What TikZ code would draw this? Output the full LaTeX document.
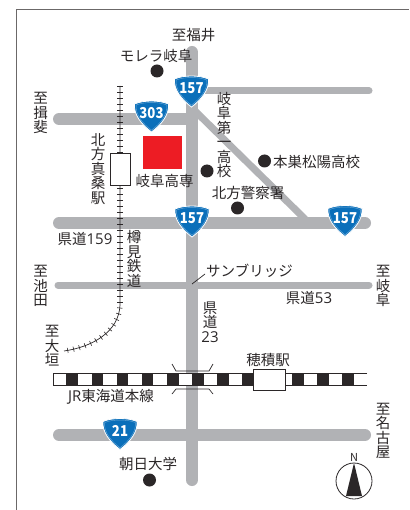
\documentclass[tikz,border=0pt]{standalone}
\usepackage{fontspec}
\setmainfont{Noto Sans CJK JP}
\newfontfamily\latinf{Open Sans}
\usetikzlibrary{decorations.markings}
\definecolor{roadgray}{HTML}{B1B2B5}
\definecolor{ink}{HTML}{2B2728}
\definecolor{shieldblue}{HTML}{0A6FBA}
\definecolor{redsq}{HTML}{ED1C24}
\tikzset{
  road/.style={draw=roadgray,line cap=round,line width=12pt},
  thinroad/.style={draw=roadgray,line cap=round,line width=7pt},
  label/.style={text=ink,inner sep=0pt,align=center,font=\fontsize{14.5}{14.4}\selectfont},
  landmark/.style={circle,fill=ink,minimum size=13pt,inner sep=0pt},
  stationbox/.style={draw=ink,fill=white,line width=0.8pt},
  tracktick/.style={postaction={decorate,decoration={markings,
    mark=between positions 0 and 1 step 6pt with {\draw[ink,line width=0.6pt] (0,-2.6pt) -- (0,2.6pt);}}}},
  leader/.style={draw=ink,line width=0.7pt},
}
\newcommand{\nm}[1]{{\latinf\fontsize{15}{14.4}\selectfont #1}}
\newcommand{\shield}[4]{%
  \begin{scope}[shift={(#2,#3)}]
    \draw[fill=shieldblue,draw=white,line width=0.8pt]
      (-17,-12.5) .. controls (-8,-16.5) and (8,-16.5) .. (17,-12.5)
      .. controls (18,-2) and (10,8) .. (0,15.5)
      .. controls (-10,8) and (-18,-2) .. (-17,-12.5) -- cycle;
    \draw[draw=shieldblue!60,line width=0.4pt]
      (-15.4,-11.4) .. controls (-8,-14.8) and (8,-14.8) .. (15.4,-11.4)
      .. controls (16.2,-2) and (9,7) .. (0,13.7)
      .. controls (-9,7) and (-16.2,-2) .. (-15.4,-11.4) -- cycle;
    \node[text=white,inner sep=0pt,font=\fontsize{15}{15}\selectfont\bfseries,xscale=0.88] (#1) at (0,-3) {#4};
  \end{scope}}
\begin{document}
\begin{tikzpicture}[x=1pt,y=-1pt]
\useasboundingbox (0,0) rectangle (409,510);
\fill[white] (0,0) rectangle (409,510);
% frame
\draw[draw=ink!70,line width=1pt] (16,510) -- (16,10) -- (409,10);
% roads
\draw[thinroad] (192,91) -- (369,91);
\draw[thinroad] (192,108) -- (305,219);
\draw[thinroad] (58,285) -- (369,285);
\draw[road] (59,119) -- (192,119);
\draw[road] (59,223) -- (365,223);
\draw[road] (59,435) -- (365,435);
\draw[road] (192,52) -- (192,480);
% rail track
\coordinate (trackN) at (120,86);
\coordinate (trackBend) at (120,305);
\coordinate (trackW) at (64,351);
\draw[ink,line width=0.7pt,tracktick] (trackN) -- (trackBend) .. controls (119,332) and (92,347) .. (trackW);
\node[stationbox,minimum width=20pt,minimum height=32pt,inner sep=0pt] (kitagata) at (120.5,169) {};
% JR line
\fill[white] (53,373) rectangle (367,385);
\draw[draw=ink,line width=0.9pt] (367,373) -- (53,373) -- (53,385) -- (367,385);
\foreach \a/\b in {66/78,92/103,117/128,142/153,167/179,192/204,217/229,242/253,292/304,317/329,342/354}
  \fill[ink] (\a,373) rectangle (\b,385);
\node[stationbox,minimum width=32pt,minimum height=21pt,inner sep=0pt] (hozumi) at (269.5,379.5) {};
% bridge marks
\draw[leader] (172,364) -- (176,371) -- (209,371) -- (213,364);
\draw[leader] (172,394) -- (176,389) -- (209,389) -- (213,394);
% red square
\node[fill=redsq,minimum width=39pt,minimum height=33pt,inner sep=0pt] (school) at (162.5,152.5) {};
% landmarks
\node[landmark] (moreradot) at (157,71) {};
\node[landmark] (daiichidot) at (207,171) {};
\node[landmark] (motosudot) at (264.5,161) {};
\node[landmark] (policedot) at (237.5,208) {};
\node[landmark] (asahidot) at (149.5,480) {};
% shields
\shield{s157a}{191.5}{91.5}{157}
\shield{s303}{151.5}{116.5}{303}
\shield{s157b}{192}{221.5}{157}
\shield{s157c}{345}{221}{157}
\shield{s21}{120}{434}{21}
% labels
\node[label] (fukui) at (193.5,35.5) {至福井};
\node[label] (morera) at (156,56) {モレラ岐阜};
\node[label] (ibi) at (40.5,113) {至\\揖\\斐};
\node[label] (kitagatast) at (98,169) {北\\方\\真\\桑\\駅};
\node[label] (kosen) at (164.5,181) {岐阜高専};
\node[label] (r159) at (85,239) {県道\nm{159}};
\node[label] (tarumi) at (134,259) {樽\\見\\鉄\\道};
\node[label] (daiichi) at (224,135) {岐\\阜\\第\\一\\高\\校};
\node[label] (motosu) at (316.5,162) {本巣松陽高校};
\node[label] (police) at (248,193) {北方警察署};
\node[label] (ikeda) at (40.5,286) {至\\池\\田};
\node[label] (ogaki) at (52,346) {至\\大\\垣};
\node[label] (sun) at (249.5,271) {サンブリッジ};
\node[label] (r53) at (309,298) {県道\nm{53}};
\node[label] (r23) at (210,322) {県\\道\\\nm{23}};
\node[label] (hozumil) at (268,360) {穂積駅};
\node[label] (jr) at (111,397) {\nm{JR}東海道本線};
\node[label] (gifu) at (383,286) {至\\岐\\阜};
\node[label] (nagoya) at (383,431) {至\\名\\古\\屋};
\node[label] (asahi) at (148,464) {朝日大学};
\coordinate (sunfoot) at (192,284);
\coordinate (sunhead) at (205,274);
\draw[leader] (sunfoot) -- (sunhead);
% compass
\node[draw=ink,circle,line width=0.8pt,minimum size=36pt,inner sep=0pt,fill=white] (compass) at (354,481) {};
\fill[ink] (354,463) -- (362,496) -- (346,496) -- cycle;
\node[label,font=\fontsize{11}{11}\selectfont] (north) at (354,457) {N};
\end{tikzpicture}
\end{document}
